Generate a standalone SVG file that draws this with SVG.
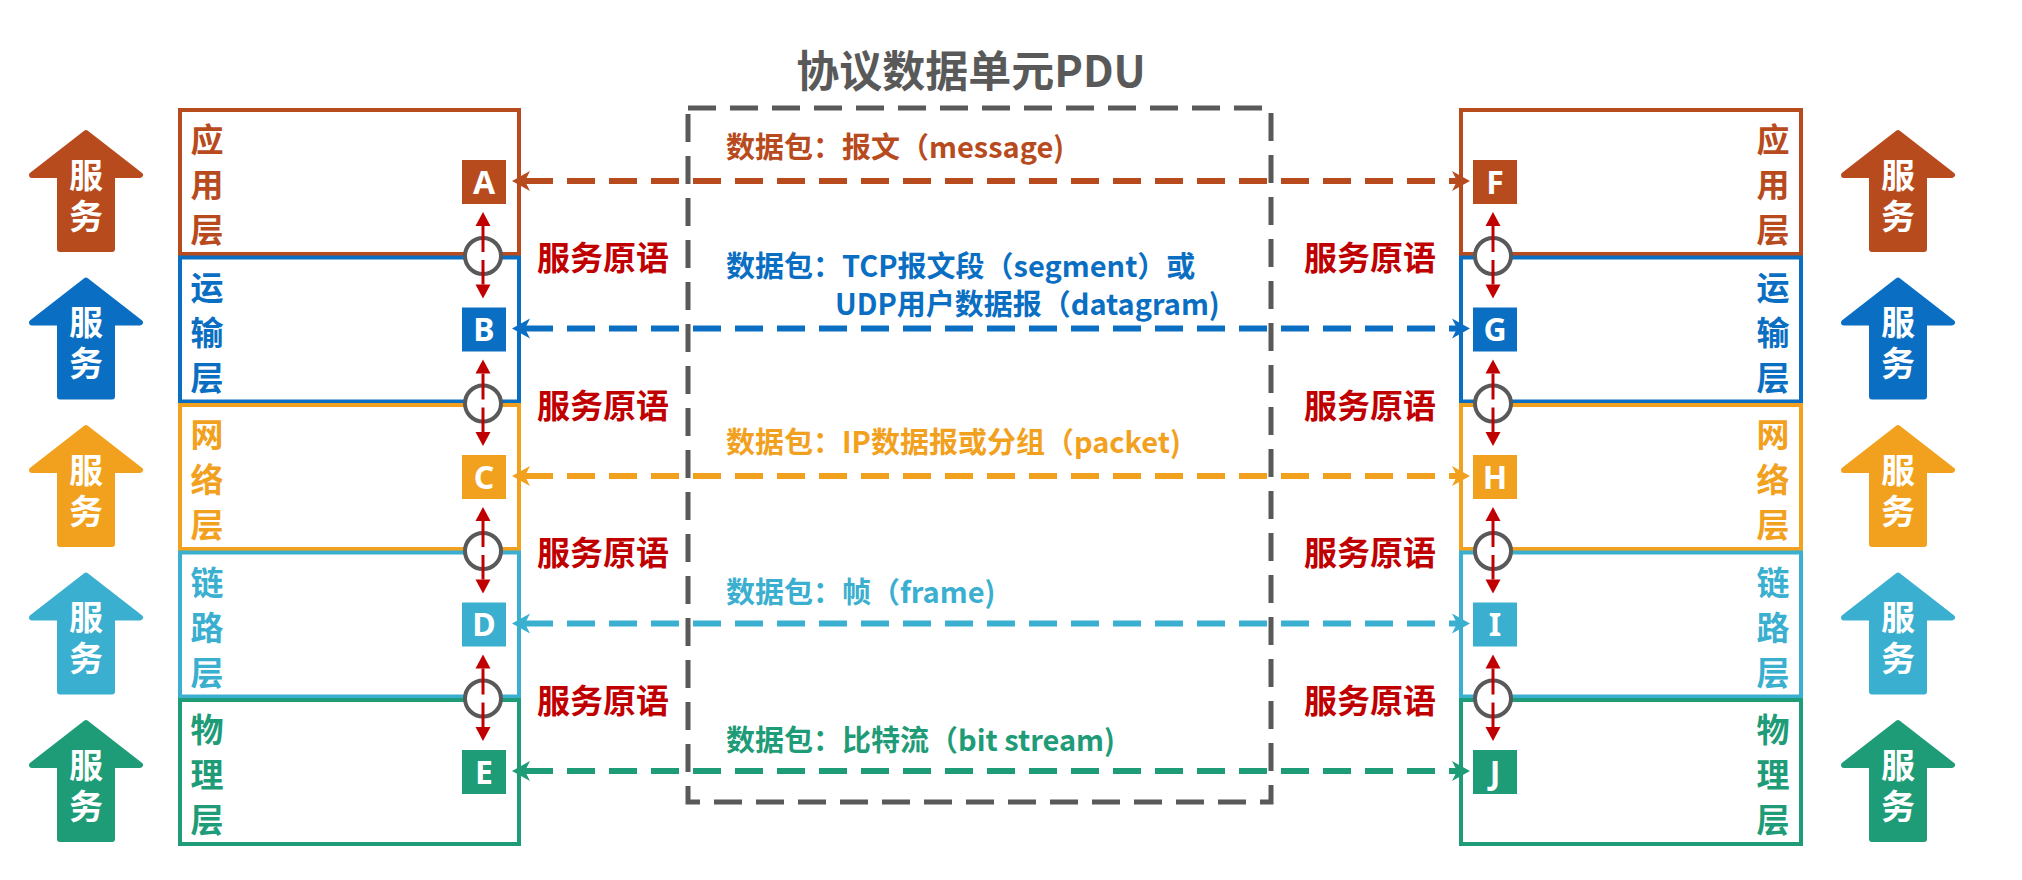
<svg xmlns="http://www.w3.org/2000/svg" width="2022" height="880" viewBox="0 0 2022 880">
<defs>
<style>
.cjk{font-family:"Noto Sans CJK SC","Noto Sans",sans-serif;font-weight:bold}
.layer{fill:#fff;stroke-width:4}
.lname{font-size:33px;text-anchor:middle}
.svc{font-size:34px;fill:#fff;stroke:none;writing-mode:vertical-rl;letter-spacing:7px}
.letter{font-family:"Noto Sans","Liberation Sans",sans-serif;font-weight:bold;font-size:32px;fill:#fff;text-anchor:middle}
.prim{font-size:33px;fill:#C00000}
.pdu{font-size:29px}
.conn{fill:none;stroke-width:6;stroke-dasharray:28 14}
.red{stroke:#C00000;stroke-width:3;fill:none;marker-end:url(#mRed)}
.ring{fill:#fff;stroke:#595959;stroke-width:4}
.arrow{stroke-width:6;stroke-linejoin:round}
.c0{fill:#B84B1E;stroke:#B84B1E}
.c1{fill:#0A6FC2;stroke:#0A6FC2}
.c2{fill:#F2A11F;stroke:#F2A11F}
.c3{fill:#3AAFCF;stroke:#3AAFCF}
.c4{fill:#1E9B77;stroke:#1E9B77}
</style>
<marker id="m0" markerUnits="userSpaceOnUse" viewBox="-6 -11 20 22" markerWidth="20" markerHeight="22" refX="0" refY="0" orient="auto-start-reverse"><path d="M13,0 L-5,-10 L0,0 L-5,10 Z" fill="#B84B1E"/></marker>
<marker id="m1" markerUnits="userSpaceOnUse" viewBox="-6 -11 20 22" markerWidth="20" markerHeight="22" refX="0" refY="0" orient="auto-start-reverse"><path d="M13,0 L-5,-10 L0,0 L-5,10 Z" fill="#0A6FC2"/></marker>
<marker id="m2" markerUnits="userSpaceOnUse" viewBox="-6 -11 20 22" markerWidth="20" markerHeight="22" refX="0" refY="0" orient="auto-start-reverse"><path d="M13,0 L-5,-10 L0,0 L-5,10 Z" fill="#F2A11F"/></marker>
<marker id="m3" markerUnits="userSpaceOnUse" viewBox="-6 -11 20 22" markerWidth="20" markerHeight="22" refX="0" refY="0" orient="auto-start-reverse"><path d="M13,0 L-5,-10 L0,0 L-5,10 Z" fill="#3AAFCF"/></marker>
<marker id="m4" markerUnits="userSpaceOnUse" viewBox="-6 -11 20 22" markerWidth="20" markerHeight="22" refX="0" refY="0" orient="auto-start-reverse"><path d="M13,0 L-5,-10 L0,0 L-5,10 Z" fill="#1E9B77"/></marker>
<marker id="mRed" markerUnits="userSpaceOnUse" viewBox="-1 -9 16 18" markerWidth="16" markerHeight="18" refX="0" refY="0" orient="auto"><path d="M14,0 L0,-7.5 L0,7.5 Z" fill="#C00000"/></marker>
<path id="svcArrow" d="M0,3 L54,45 L26,45 L26,119 L-26,119 L-26,45 L-54,45 Z"/>
</defs>
<rect width="2022" height="880" fill="#fff"/>

<!-- title -->
<text class="cjk" x="971" y="87" font-size="43" fill="#595959" text-anchor="middle">协议数据单元PDU</text>

<!-- service arrows -->
<g id="service-left">
<g class="c0"><use href="#svcArrow" x="86" y="130" class="arrow"/><text class="cjk svc" x="86" y="158">服务</text></g>
<g class="c1"><use href="#svcArrow" x="86" y="277.5" class="arrow"/><text class="cjk svc" x="86" y="305.5">服务</text></g>
<g class="c2"><use href="#svcArrow" x="86" y="425" class="arrow"/><text class="cjk svc" x="86" y="453">服务</text></g>
<g class="c3"><use href="#svcArrow" x="86" y="572.5" class="arrow"/><text class="cjk svc" x="86" y="600.5">服务</text></g>
<g class="c4"><use href="#svcArrow" x="86" y="720" class="arrow"/><text class="cjk svc" x="86" y="748">服务</text></g>
</g>
<g id="service-right">
<g class="c0"><use href="#svcArrow" x="1898" y="130" class="arrow"/><text class="cjk svc" x="1898" y="158">服务</text></g>
<g class="c1"><use href="#svcArrow" x="1898" y="277.5" class="arrow"/><text class="cjk svc" x="1898" y="305.5">服务</text></g>
<g class="c2"><use href="#svcArrow" x="1898" y="425" class="arrow"/><text class="cjk svc" x="1898" y="453">服务</text></g>
<g class="c3"><use href="#svcArrow" x="1898" y="572.5" class="arrow"/><text class="cjk svc" x="1898" y="600.5">服务</text></g>
<g class="c4"><use href="#svcArrow" x="1898" y="720" class="arrow"/><text class="cjk svc" x="1898" y="748">服务</text></g>
</g>

<!-- left layers -->
<g id="left-app">
<rect class="layer" x="180" y="110" width="339" height="144" stroke="#B84B1E"/>
<g class="cjk lname" fill="#B84B1E"><text x="207" y="152">应</text><text x="207" y="197">用</text><text x="207" y="242">层</text></g>
<rect x="462" y="160" width="44" height="44" fill="#B84B1E"/><text class="letter" x="484" y="193.5">A</text>
</g>
<g id="left-transport">
<rect class="layer" x="180" y="257.5" width="339" height="144" stroke="#0A6FC2"/>
<g class="cjk lname" fill="#0A6FC2"><text x="207" y="299.5">运</text><text x="207" y="344.5">输</text><text x="207" y="389.5">层</text></g>
<rect x="462" y="307.5" width="44" height="44" fill="#0A6FC2"/><text class="letter" x="484" y="341">B</text>
</g>
<g id="left-network">
<rect class="layer" x="180" y="405" width="339" height="144" stroke="#F2A11F"/>
<g class="cjk lname" fill="#F2A11F"><text x="207" y="447">网</text><text x="207" y="492">络</text><text x="207" y="537">层</text></g>
<rect x="462" y="455" width="44" height="44" fill="#F2A11F"/><text class="letter" x="484" y="488.5">C</text>
</g>
<g id="left-link">
<rect class="layer" x="180" y="552.5" width="339" height="144" stroke="#3AAFCF"/>
<g class="cjk lname" fill="#3AAFCF"><text x="207" y="594.5">链</text><text x="207" y="639.5">路</text><text x="207" y="684.5">层</text></g>
<rect x="462" y="602.5" width="44" height="44" fill="#3AAFCF"/><text class="letter" x="484" y="636">D</text>
</g>
<g id="left-physical">
<rect class="layer" x="180" y="700" width="339" height="144" stroke="#1E9B77"/>
<g class="cjk lname" fill="#1E9B77"><text x="207" y="742">物</text><text x="207" y="787">理</text><text x="207" y="832">层</text></g>
<rect x="462" y="750" width="44" height="44" fill="#1E9B77"/><text class="letter" x="484" y="783.5">E</text>
</g>

<!-- right layers -->
<g id="right-app">
<rect class="layer" x="1461" y="110" width="340" height="144" stroke="#B84B1E"/>
<g class="cjk lname" fill="#B84B1E"><text x="1773" y="152">应</text><text x="1773" y="197">用</text><text x="1773" y="242">层</text></g>
<rect x="1473" y="160" width="44" height="44" fill="#B84B1E"/><text class="letter" x="1495" y="193.5">F</text>
</g>
<g id="right-transport">
<rect class="layer" x="1461" y="257.5" width="340" height="144" stroke="#0A6FC2"/>
<g class="cjk lname" fill="#0A6FC2"><text x="1773" y="299.5">运</text><text x="1773" y="344.5">输</text><text x="1773" y="389.5">层</text></g>
<rect x="1473" y="307.5" width="44" height="44" fill="#0A6FC2"/><text class="letter" x="1495" y="341">G</text>
</g>
<g id="right-network">
<rect class="layer" x="1461" y="405" width="340" height="144" stroke="#F2A11F"/>
<g class="cjk lname" fill="#F2A11F"><text x="1773" y="447">网</text><text x="1773" y="492">络</text><text x="1773" y="537">层</text></g>
<rect x="1473" y="455" width="44" height="44" fill="#F2A11F"/><text class="letter" x="1495" y="488.5">H</text>
</g>
<g id="right-link">
<rect class="layer" x="1461" y="552.5" width="340" height="144" stroke="#3AAFCF"/>
<g class="cjk lname" fill="#3AAFCF"><text x="1773" y="594.5">链</text><text x="1773" y="639.5">路</text><text x="1773" y="684.5">层</text></g>
<rect x="1473" y="602.5" width="44" height="44" fill="#3AAFCF"/><text class="letter" x="1495" y="636">I</text>
</g>
<g id="right-physical">
<rect class="layer" x="1461" y="700" width="340" height="144" stroke="#1E9B77"/>
<g class="cjk lname" fill="#1E9B77"><text x="1773" y="742">物</text><text x="1773" y="787">理</text><text x="1773" y="832">层</text></g>
<rect x="1473" y="750" width="44" height="44" fill="#1E9B77"/><text class="letter" x="1495" y="783.5">J</text>
</g>

<!-- service primitive interfaces -->
<g id="primitives">
<circle class="ring" cx="483" cy="256" r="18"/>
<circle class="ring" cx="483" cy="403.5" r="18"/>
<circle class="ring" cx="483" cy="551" r="18"/>
<circle class="ring" cx="483" cy="698.5" r="18"/>
<circle class="ring" cx="1493" cy="256" r="18"/>
<circle class="ring" cx="1493" cy="403.5" r="18"/>
<circle class="ring" cx="1493" cy="551" r="18"/>
<circle class="ring" cx="1493" cy="698.5" r="18"/>
<g class="cjk prim">
<text x="537" y="270">服务原语</text>
<text x="537" y="417.5">服务原语</text>
<text x="537" y="565">服务原语</text>
<text x="537" y="712.5">服务原语</text>
<text x="1304" y="270">服务原语</text>
<text x="1304" y="417.5">服务原语</text>
<text x="1304" y="565">服务原语</text>
<text x="1304" y="712.5">服务原语</text>
</g>
</g>

<!-- connectors -->
<g id="connectors">
<path class="red" d="M483,252 V226"/><path class="red" d="M483,260 V284.5"/>
<path class="red" d="M483,399.5 V373.5"/><path class="red" d="M483,407.5 V432"/>
<path class="red" d="M483,547 V521"/><path class="red" d="M483,555 V579.5"/>
<path class="red" d="M483,694.5 V668.5"/><path class="red" d="M483,702.5 V727"/>
<path class="red" d="M1493,252 V226"/><path class="red" d="M1493,260 V284.5"/>
<path class="red" d="M1493,399.5 V373.5"/><path class="red" d="M1493,407.5 V432"/>
<path class="red" d="M1493,547 V521"/><path class="red" d="M1493,555 V579.5"/>
<path class="red" d="M1493,694.5 V668.5"/><path class="red" d="M1493,702.5 V727"/>
<path class="conn" d="M525,181 H1457" stroke="#B84B1E" marker-start="url(#m0)" marker-end="url(#m0)"/>
<path class="conn" d="M525,328.5 H1457" stroke="#0A6FC2" marker-start="url(#m1)" marker-end="url(#m1)"/>
<path class="conn" d="M525,476 H1457" stroke="#F2A11F" marker-start="url(#m2)" marker-end="url(#m2)"/>
<path class="conn" d="M525,623.5 H1457" stroke="#3AAFCF" marker-start="url(#m3)" marker-end="url(#m3)"/>
<path class="conn" d="M525,771 H1457" stroke="#1E9B77" marker-start="url(#m4)" marker-end="url(#m4)"/>
</g>

<!-- PDU frame -->
<g id="pdu-box">
<rect x="688" y="108" width="583" height="694" fill="none" stroke="#595959" stroke-width="5" stroke-dasharray="28 14"/>
</g>

<!-- PDU labels -->
<g id="pdu-labels" class="cjk pdu">
<text x="726" y="158" fill="#B84B1E">数据包：报文（message)</text>
<text x="726" y="277" fill="#0A6FC2">数据包：TCP报文段（segment）或</text>
<text x="835" y="315" fill="#0A6FC2">UDP用户数据报（datagram)</text>
<text x="726" y="453" fill="#F2A11F">数据包：IP数据报或分组（packet)</text>
<text x="726" y="603" fill="#3AAFCF">数据包：帧（frame)</text>
<text x="726" y="751" fill="#1E9B77">数据包：比特流（bit stream)</text>
</g>
</svg>
